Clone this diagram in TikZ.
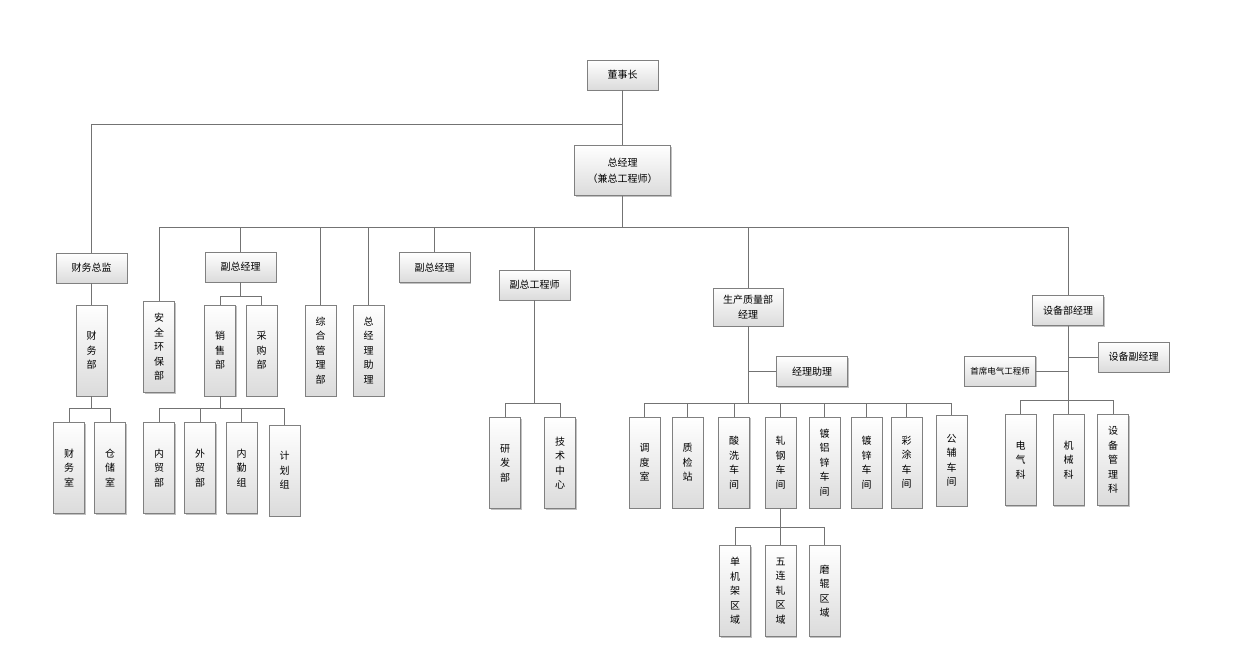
\documentclass[tikz,border=0pt]{standalone}
\usepackage{fontspec}
\newfontfamily\cjk{Noto Sans CJK SC}
\usetikzlibrary{shadows}
\tikzset{
  box/.style={rectangle, draw=black!50, line width=0.6pt, top color=white, bottom color=black!14,
    inner sep=0pt, align=center, font=\cjk\fontsize{10}{14.5}\selectfont,
    drop shadow={shadow xshift=1.2pt, shadow yshift=-1.2pt, fill=black!30, opacity=0.8}},
  hbox/.style={box, minimum width=71pt, minimum height=30pt},
  vbox/.style={box, minimum width=31pt, minimum height=91pt},
  conn/.style={draw=black!55, line width=0.7pt},
}
\begin{document}
\begin{tikzpicture}[x=1pt,y=-1pt]
\useasboundingbox (0,0) rectangle (1241,667);
% top
\node[hbox] (dsz) at (622.5,75) {董事长};
\node[box, minimum width=96pt, minimum height=50pt, font=\cjk\fontsize{10}{16}\selectfont] (zjl) at (622.5,170.5) {总经理\\（兼总工程师）};
% finance
\node[hbox] (cwzj) at (91.5,268) {财务总监};
\node[vbox] (cwb) at (91.5,350.5) {财\\务\\部};
\node[vbox] (cws) at (69,468) {财\\务\\室};
\node[vbox] (ccs) at (110,468) {仓\\储\\室};
% left group
\node[vbox] (aq) at (159,347) {安\\全\\环\\保\\部};
\node[hbox] (fz1) at (240.5,267) {副总经理};
\node[vbox] (xsb) at (220,350.5) {销\\售\\部};
\node[vbox] (cgb) at (261.5,350.5) {采\\购\\部};
\node[vbox] (nm) at (159,468) {内\\贸\\部};
\node[vbox] (wm) at (200,468) {外\\贸\\部};
\node[vbox] (nq) at (241.5,468) {内\\勤\\组};
\node[vbox] (jh) at (284.5,470.5) {计\\划\\组};
\node[vbox] (zh) at (320.5,350.5) {综\\合\\管\\理\\部};
\node[vbox] (zl) at (368.5,350.5) {总\\经\\理\\助\\理};
\node[hbox] (fz2) at (434.5,267.5) {副总经理};
% chief engineer
\node[hbox] (fzg) at (534.5,285) {副总工程师};
\node[vbox] (yf) at (505,463) {研\\发\\部};
\node[vbox] (js) at (560,463) {技\\术\\中\\心};
% production
\node[box, minimum width=70pt, minimum height=38pt] (sc) at (748,307) {生产质量部\\经理};
\node[hbox] (jlzl) at (812,371.5) {经理助理};
\node[vbox] (dd) at (644.5,462.5) {调\\度\\室};
\node[vbox] (zj) at (687.5,462.5) {质\\检\\站};
\node[vbox] (sx) at (734,462.5) {酸\\洗\\车\\间};
\node[vbox] (zg) at (780.5,462.5) {轧\\钢\\车\\间};
\node[vbox] (dlx) at (824.5,462.5) {镀\\铝\\锌\\车\\间};
\node[vbox] (dx) at (866.5,462.5) {镀\\锌\\车\\间};
\node[vbox] (ct) at (906.5,462.5) {彩\\涂\\车\\间};
\node[vbox] (gf) at (951.5,460.5) {公\\辅\\车\\间};
\node[vbox] (dj) at (735,591) {单\\机\\架\\区\\域};
\node[vbox] (wl) at (780.5,591) {五\\连\\轧\\区\\域};
\node[vbox] (mg) at (824.5,591) {磨\\辊\\区\\域};
% equipment
\node[hbox] (sb) at (1068,310.5) {设备部经理};
\node[hbox] (sbf) at (1133.5,357) {设备副经理};
\node[hbox, font=\cjk\fontsize{8.5}{10}\selectfont] (sxdq) at (1000,371) {首席电气工程师};
\node[vbox] (dq) at (1020.5,460) {电\\气\\科};
\node[vbox] (jx) at (1068.5,460) {机\\械\\科};
\node[vbox] (sbgl) at (1113,460) {设\\备\\管\\理\\科};
% bus points
\coordinate (b0) at (622.5,124);
\coordinate (b1) at (622.5,227);
\coordinate (bcw) at (91.5,408);
\coordinate (bfz) at (240.5,296);
\coordinate (bxs) at (220,408);
\coordinate (bfg) at (534.5,403);
\coordinate (bsc) at (748,403);
\coordinate (bjz) at (748,371.5);
\coordinate (bzg) at (780.5,527);
\coordinate (bsb) at (1068,400);
\coordinate (bsf) at (1068,357);
\coordinate (bsx) at (1068,371);
\begin{scope}[on background layer/.try]
\draw[conn] (dsz.south) -- (zjl.north);
\draw[conn] (b0) -| (cwzj.north);
\draw[conn] (zjl.south) -- (b1);
\foreach \n in {aq,fz1,zh,zl,fz2,fzg,sc,sb} \draw[conn] (b1) -| (\n.north);
\draw[conn] (cwzj.south) -- (cwb.north);
\draw[conn] (cwb.south) -- (bcw);
\foreach \n in {cws,ccs} \draw[conn] (bcw) -| (\n.north);
\draw[conn] (fz1.south) -- (bfz);
\foreach \n in {xsb,cgb} \draw[conn] (bfz) -| (\n.north);
\draw[conn] (xsb.south) -- (bxs);
\foreach \n in {nm,wm,nq,jh} \draw[conn] (bxs) -| (\n.north);
\draw[conn] (fzg.south) -- (bfg);
\foreach \n in {yf,js} \draw[conn] (bfg) -| (\n.north);
\draw[conn] (sc.south) -- (bsc);
\draw[conn] (bjz) -- (jlzl.west);
\foreach \n in {dd,zj,sx,zg,dlx,dx,ct,gf} \draw[conn] (bsc) -| (\n.north);
\draw[conn] (zg.south) -- (bzg);
\foreach \n in {dj,wl,mg} \draw[conn] (bzg) -| (\n.north);
\draw[conn] (sb.south) -- (bsb);
\draw[conn] (bsf) -- (sbf.west);
\draw[conn] (bsx) -- (sxdq.east);
\foreach \n in {dq,jx,sbgl} \draw[conn] (bsb) -| (\n.north);
\end{scope}
\end{tikzpicture}
\end{document}
